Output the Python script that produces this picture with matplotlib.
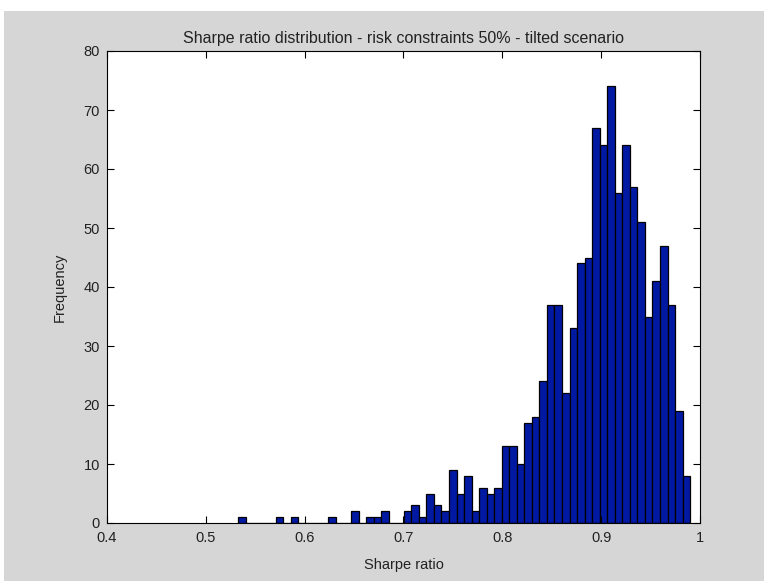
import numpy as np
import matplotlib
matplotlib.use("Agg")
import matplotlib.pyplot as plt
from matplotlib.patches import Rectangle

# histogram: 60 equal bins between min and max Sharpe ratio
sr_min = 0.5326
sr_max = 0.9900
counts = [1, 0, 0, 0, 0, 1, 0, 1, 0, 0,
          0, 0, 1, 0, 0, 2, 0, 1, 1, 2,
          0, 0, 2, 3, 1, 5, 3, 2, 9, 5,
          8, 2, 6, 5, 6, 13, 13, 10, 17, 18,
          24, 37, 37, 22, 33, 44, 45, 67, 64, 74,
          56, 64, 57, 51, 35, 41, 47, 37, 19, 8]
xticks = [0.4, 0.5, 0.6, 0.7, 0.8, 0.9, 1.0]
xticklabels = ["0.4", "0.5", "0.6", "0.7", "0.8", "0.9", "1"]
yticks = [0, 10, 20, 30, 40, 50, 60, 70, 80]

plt.rcParams["font.family"] = ["Liberation Sans", "DejaVu Sans"]
plt.rcParams["font.size"] = 10.5

fig = plt.figure(figsize=(7.64, 5.81), dpi=100, facecolor="white")
# grey figure area with a thin white strip on top and left
fig.patches.append(Rectangle((4 / 764, 0), 1, 1 - 11 / 581, transform=fig.transFigure,
                             facecolor="#d6d6d6", edgecolor="none", zorder=-10))

ax = fig.add_axes([107 / 764, 1 - 523 / 581, 593 / 764, 472 / 581])

edges = np.linspace(sr_min, sr_max, len(counts) + 1)
ax.bar(edges[:-1], counts, width=np.diff(edges), align="edge",
       color="#0019a3", edgecolor="black", linewidth=0.9)

ax.set_xlim(0.4, 1.0)
ax.set_ylim(0, 80)
ax.set_xticks(xticks)
ax.set_xticklabels(xticklabels)
ax.set_yticks(yticks)
ax.tick_params(axis="both", direction="in", length=5, width=0.8, top=True, right=True,
               colors="black", labelcolor="#222222")
ax.tick_params(axis="x", pad=6)
ax.tick_params(axis="y", pad=5)
for s in ax.spines.values():
    s.set_linewidth(0.8)

ax.set_title("Sharpe ratio distribution - risk constraints 50% - tilted scenario",
             fontsize=11.5, color="#222222", pad=6)
ax.set_xlabel("Sharpe ratio", color="#222222", labelpad=9)
ax.set_ylabel("Frequency", color="#222222", labelpad=12)

fig.savefig("out.png", dpi=100, facecolor=fig.get_facecolor())
